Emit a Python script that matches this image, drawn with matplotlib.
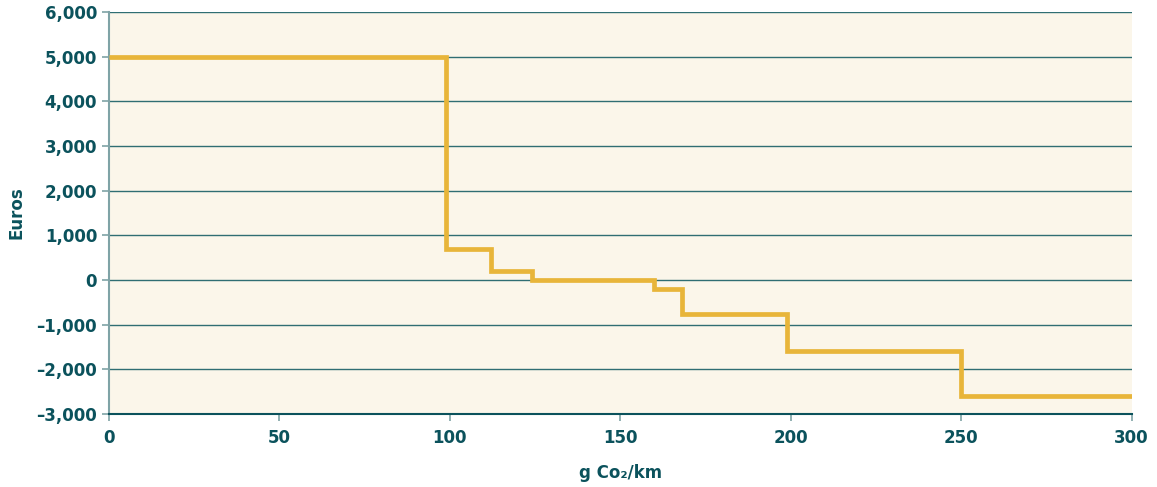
import matplotlib.pyplot as plt
from matplotlib.ticker import FuncFormatter

# step edges (g CO2/km) and the bonus/malus level in each band
edges = [0, 99, 112, 124, 160, 168, 199, 250, 300]
euros = [5000, 700, 200, 0, -200, -750, -1600, -2600]

y_ticks = [-3000, -2000, -1000, 0, 1000, 2000, 3000, 4000, 5000, 6000]
x_ticks = [0, 50, 100, 150, 200, 250, 300]

teal = "#0b525c"
grid_col = "#2f6e73"
gold = "#e8b53a"

plt.rcParams["font.family"] = ["DejaVu Sans"]

fig = plt.figure(figsize=(11.57, 4.87), dpi=100)
ax = fig.add_axes([0.0942, 0.150, 0.8838, 0.825])
ax.set_facecolor("#fbf6ea")

# draw steps: value held until next edge
ax.stairs(euros, edges, color=gold, linewidth=3.4, baseline=None, zorder=3)

ax.set_xlim(0, 300)
ax.set_ylim(-3000, 6000)
ax.set_xticks(x_ticks)
ax.set_yticks(y_ticks)
ax.yaxis.set_major_formatter(FuncFormatter(lambda v, p: f"{int(v):,}".replace("-", "\u2013")))
ax.grid(axis="y", color=grid_col, linewidth=1.0, zorder=1)
ax.grid(axis="x", visible=False)

for s in ["top", "right"]:
    ax.spines[s].set_visible(False)
ax.spines["left"].set_color("#7fa3a6")
ax.spines["left"].set_linewidth(1.5)
ax.spines["bottom"].set_color(teal)
ax.spines["bottom"].set_linewidth(1.5)

ax.tick_params(axis="both", colors="#7fa3a6", length=5, width=1.2, labelsize=12,
               labelcolor=teal)
for lab in ax.get_xticklabels() + ax.get_yticklabels():
    lab.set_fontweight("bold")
ax.tick_params(axis="x", pad=6)

ax.set_xlabel("g Co\u2082/km", fontsize=12, fontweight="bold", color=teal, labelpad=12)
ax.set_ylabel("Euros", fontsize=12, fontweight="bold", color=teal, labelpad=8)

plt.savefig("out.png", dpi=100)
